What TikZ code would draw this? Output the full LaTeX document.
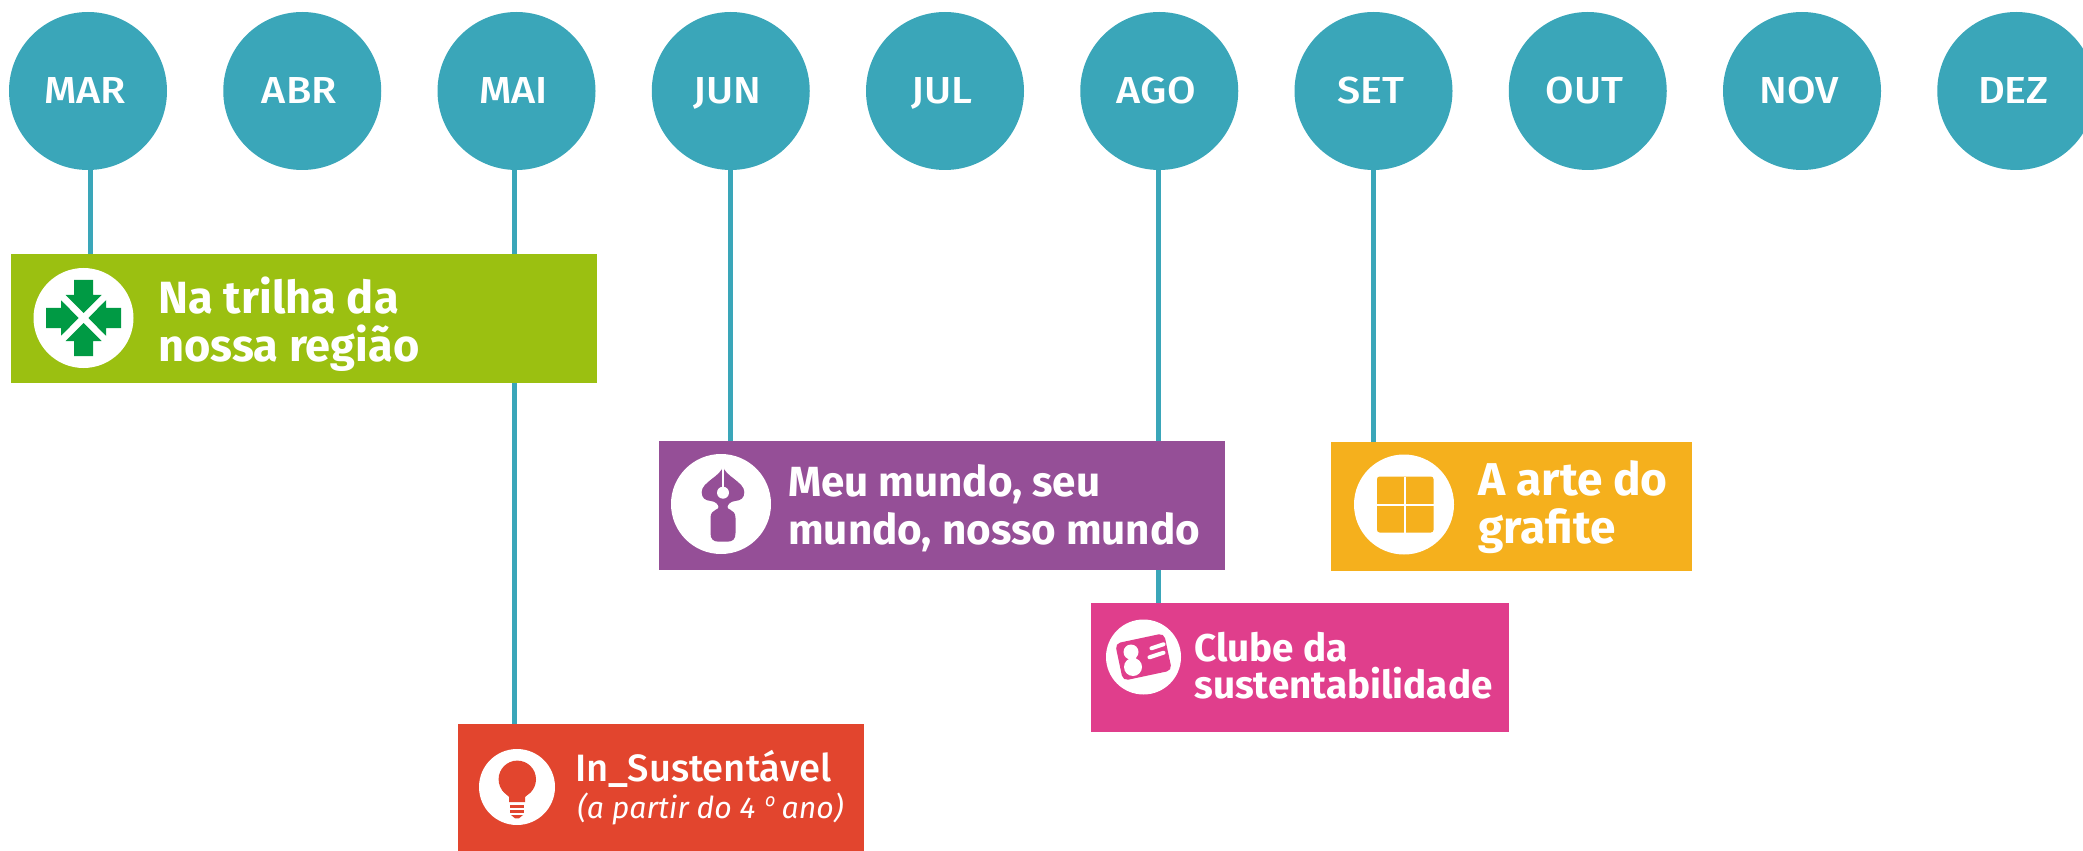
\documentclass[tikz,border=0pt]{standalone}
\usepackage{fontspec}
\setmainfont{Fira Sans}
\newfontfamily\fontmes[FakeStretch=1.1]{Fira Sans Medium}
\newfontfamily\fontsust{Fira Sans Medium}
\newfontfamily\fontord{Open Sans}
\usetikzlibrary{positioning,backgrounds}
\definecolor{azul}{HTML}{3AA6B9}
\definecolor{verde}{HTML}{9BC011}
\definecolor{verdeesc}{HTML}{009A44}
\definecolor{roxo}{HTML}{954F97}
\definecolor{laranja}{HTML}{F5B01D}
\definecolor{rosa}{HTML}{E03E8C}
\definecolor{vermelho}{HTML}{E2452E}
\newcommand{\mes}[1]{#1\kern3.4pt}
\tikzset{
	mescirc/.style={circle,fill=azul,text=white,inner sep=0pt,minimum size=158*0.02cm,text height=14.7pt,text depth=0pt,font=\fontmes\fontsize{21.4}{24}\selectfont},
	linha/.style={azul,line width=5*0.02cm},
	caixa/.style={rectangle,inner sep=0pt,minimum width=#1*0.02cm,minimum height=129*0.02cm},
	icone/.style={circle,fill=white,inner sep=0pt,minimum size=#1*0.02cm},
	titulo/.style={text=white,anchor=west,align=left,inner sep=0pt,font=\bfseries\fontsize{#1}{27.2}\selectfont},
	tituloP/.style={text=white,anchor=west,align=left,inner sep=0pt,font=\bfseries\fontsize{22}{21}\selectfont}
}
\begin{document}
\begin{tikzpicture}[x=0.02cm,y=0.02cm]
		\useasboundingbox (0,0) rectangle (2083,-851);
		\clip (0,0) rectangle (2083,-851);
		\node [mescirc] (mar) at (88,-91) {\mes{MAR}};
		\node [mescirc] (abr) at (302.25,-91) {\mes{ABR}};
		\node [mescirc] (mai) at (516.5,-91) {\mes{MAI}};
		\node [mescirc] (jun) at (730.75,-91) {\mes{JUN}};
		\node [mescirc] (jul) at (945,-91) {\mes{JUL}};
		\node [mescirc] (ago) at (1159.25,-91) {\mes{AGO}};
		\node [mescirc] (set) at (1373.5,-91) {\mes{SET}};
		\node [mescirc] (out) at (1587.75,-91) {\mes{OUT}};
		\node [mescirc] (nov) at (1802,-91) {\mes{NOV}};
		\node [mescirc] (dez) at (2016.25,-91) {\mes{DEZ}};
		\node [caixa=586,fill=verde] (trilha) at (304,-318.5) {};
		\node [caixa=566,fill=roxo] (mundo) at (942,-505.5) {};
		\node [caixa=361,fill=laranja] (grafite) at (1511.5,-506.5) {};
		\node [caixa=418,fill=rosa] (clube) at (1300,-667.5) {};
		\node [caixa=406,fill=vermelho,minimum height=127*0.02cm] (sust) at (661,-787.5) {};
		\coordinate (lmar) at (90.5,-254);
		\coordinate (lmai) at (514,-254);
		\coordinate (ljun) at (730,-441);
		\coordinate (lago) at (1158.5,-441);
		\coordinate (lset) at (1373,-442);
		\begin{scope}[on background layer]
			\draw [linha] (mar.south -| lmar) -- (lmar |- trilha.north);
			\draw [linha] (mai.south -| lmai) -- (lmai |- sust.north);
			\draw [linha] (jun.south -| ljun) -- (ljun |- mundo.north);
			\draw [linha] (ago.south -| lago) -- (lago |- clube.north);
			\draw [linha] (set.south -| lset) -- (lset |- grafite.north);
		\end{scope}
		\node [icone=100] (icotrilha) at (83.5,-318) {};
		\node [icone=100] (icomundo) at (721,-504) {};
		\node [icone=100] (icografite) at (1404,-504.5) {};
		\node [icone=75] (icoclube) at (1143.5,-657) {};
		\node [icone=76] (icosust) at (517,-787) {};
		\node [titulo=25.7] (txttrilha) at (158,-324) {Na trilha da\\nossa região};
		\node [titulo=24] (txtmundo) at (788,-508) {Meu mundo, seu\\mundo, nosso mundo};
		\node [titulo=26.2] (txtgrafite) at (1478,-507) {A arte do\\grafite};
		\node [tituloP] (txtclube) at (1194,-666) {Clube da\\sustentabilidade};
		\node [tituloP,font=\fontsust\fontsize{21.7}{21}\selectfont] (txtsust) at (575,-769) {In\_Sustentável};
		\node [text=white,anchor=base west,inner sep=0pt,font=\itshape\fontsize{17.2}{20}\selectfont] (txtano) at (577,-818) {(a partir do 4 {\fontord º} ano)};
		\begin{scope}[shift={(83.5,-318)}]
			\fill [verdeesc] (-9.5,38) -- (9.5,38) -- (9.5,23) -- (18,23) -- (0,5) -- (-18,23) -- (-9.5,23) -- cycle;
			\fill [verdeesc] (-9.5,-38) -- (9.5,-38) -- (9.5,-23) -- (18,-23) -- (0,-5) -- (-18,-23) -- (-9.5,-23) -- cycle;
			\fill [verdeesc] (-37.5,-10) -- (-37.5,10) -- (-22.5,10) -- (-22.5,18) -- (-5,0) -- (-22.5,-18) -- (-22.5,-10) -- cycle;
			\fill [verdeesc] (37.5,-10) -- (37.5,10) -- (22.5,10) -- (22.5,18) -- (5,0) -- (22.5,-18) -- (22.5,-10) -- cycle;
			\draw [white,line width=3.5*0.02cm] (-23,21) -- (23,-21);
			\draw [white,line width=3.5*0.02cm] (-23,-21) -- (23,21);
		\end{scope}
		\begin{scope}[shift={(721,-504)}]
			\fill [roxo] (2,38) .. controls (0.5,28) and (-19.3,22) .. (-19.3,12) .. controls (-19.3,6) and (-16,3.5) .. (-10,3) .. controls (-5,2.5) and (-2.5,-1) .. (-2.5,-3) .. controls (-2.5,-5) and (-4,-5) .. (-5,-5.5) .. controls (-8,-7) and (-10.5,-9) .. (-10.5,-14) -- (-10.5,-29) .. controls (-10.5,-35) and (-8,-37.7) .. (-2,-37.7) -- (6,-37.7) .. controls (12,-37.7) and (14.5,-35) .. (14.5,-29) -- (14.5,-14) .. controls (14.5,-9) and (12,-7) .. (9,-5.5) .. controls (8,-5) and (6.5,-5) .. (6.5,-3) .. controls (6.5,-1) and (9,2.5) .. (14,3) .. controls (20,3.5) and (23.3,6) .. (23.3,12) .. controls (23.3,22) and (3.5,28) .. (2,38) -- cycle;
			\fill [white] (2,11.3) circle (6);
			\draw [white,line width=1.5*0.02cm] (2,38) -- (2,15);
		\end{scope}
		\begin{scope}[shift={(1404,-504.5)}]
			\fill [laranja,rounded corners=1.5pt] (-27,-28) rectangle (29.5,28);
			\draw [white,line width=2*0.02cm] (0.5,-28) -- (0.5,28);
			\draw [white,line width=2*0.02cm] (-27,0) -- (29.5,0);
		\end{scope}
		\begin{scope}[shift={(1143.5,-657)}]
			\fill [rosa,rounded corners=3pt,rotate=12] (-25,-19) rectangle (25,19);
			\fill [white] (-12.5,5) circle (7.5);
			\fill [white] (-10.5,-10) circle (9);
			\fill [white] (-14,-4) -- (-8,-4) -- (-7,2) -- (-15,2) -- cycle;
			\draw [white,line width=4*0.02cm,line cap=round] (8,8.7) -- (20,12.7);
			\draw [white,line width=4*0.02cm,line cap=round] (6,-0.3) -- (20,4.3);
		\end{scope}
		\begin{scope}[shift={(517,-787)}]
			\fill [vermelho] (0.3,7.7) circle (18.7);
			\fill [vermelho] (-15,-3) -- (15,-3) -- (8,-10) -- (8,-15) -- (-8,-15) -- (-8,-10) -- cycle;
			\fill [vermelho] (-7,-18) rectangle (7,-21.3);
			\fill [vermelho] (-7,-23) rectangle (7,-26.3);
			\fill [vermelho] (-6,-28) -- (6,-28) -- (2,-31.3) -- (-2,-31.3) -- cycle;
		\end{scope}
\end{tikzpicture}
\end{document}
